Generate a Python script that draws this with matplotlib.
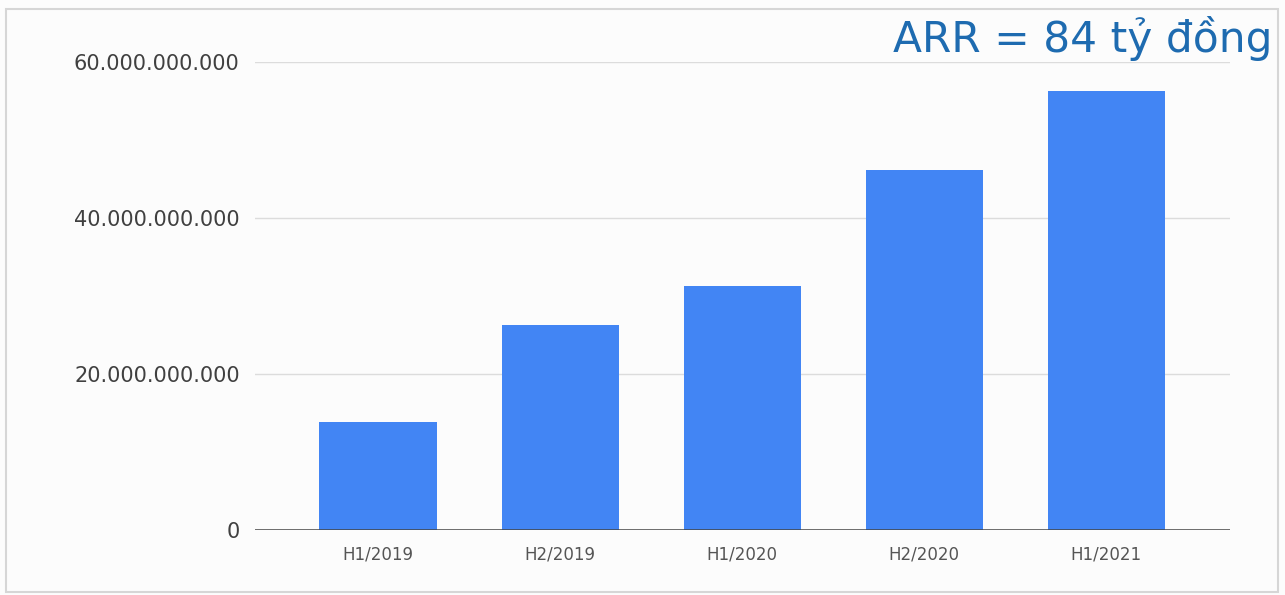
import matplotlib.pyplot as plt
from matplotlib.patches import Rectangle
from matplotlib.ticker import FuncFormatter

periods = ['H1/2019', 'H2/2019', 'H1/2020', 'H2/2020', 'H1/2021']
revenue = [13.9e9, 26.3e9, 31.3e9, 46.2e9, 56.3e9]
y_ticks = [0, 20e9, 40e9, 60e9]
note = 'ARR = 84 tỷ đồng'


def vn_number(v, pos=None):
    """Thousands separated by dots"""
    return f'{int(round(v)):,}'.replace(',', '.')


plt.rcParams['font.family'] = ['DejaVu Sans']

fig = plt.figure(figsize=(12.85, 5.95), dpi=100, facecolor='#fcfcfc')
ax = fig.add_axes([0.1984, 0.1092, 0.7588, 0.7866])
ax.set_facecolor('#fcfcfc')

# light frame round the whole picture
fig.patches.append(Rectangle((6 / 1285, 3 / 595), 1272 / 1285, 583 / 595,
                             transform=fig.transFigure, fill=False,
                             edgecolor='#d6d6d6', linewidth=1.5))

x = range(len(periods))
ax.bar(x, revenue, width=0.643, color='#4285f4', zorder=3)

ax.set_xlim(-0.676, 4.68)
ax.set_ylim(0, 60e9)
ax.set_yticks(y_ticks)
ax.yaxis.set_major_formatter(FuncFormatter(vn_number))
ax.set_xticks(list(x))
ax.set_xticklabels(periods)

ax.grid(axis='y', color='#dcdcdc', linewidth=1, zorder=0)
ax.axhline(0, color='#444444', linewidth=1.8, zorder=4)

for s in ax.spines.values():
    s.set_visible(False)
ax.tick_params(axis='y', length=0, pad=11, labelsize=15, labelcolor='#404040')
ax.tick_params(axis='x', length=0, pad=11, labelsize=12, labelcolor='#555555')

fig.text(0.99, 0.935, note, ha='right', va='center', fontsize=30.5,
         color='#1e6bb0')

fig.savefig('out.png', dpi=100, facecolor=fig.get_facecolor())
